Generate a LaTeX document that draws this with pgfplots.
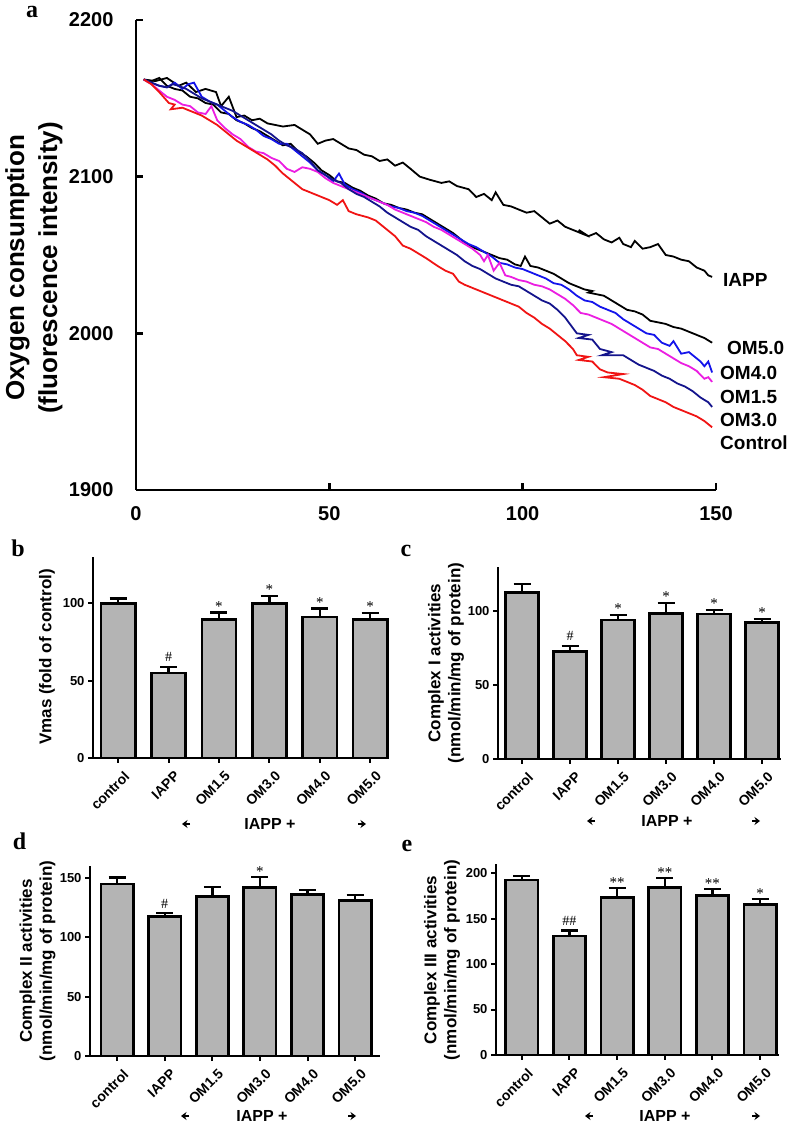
\documentclass[border=0pt]{standalone}
\usepackage{pgfplots}
\pgfplotsset{compat=1.18}
\usetikzlibrary{arrows.meta}
\usepackage{fontspec}
\setmainfont{Liberation Sans}
\newfontfamily\serifbf{Liberation Serif}
\definecolor{bargray}{RGB}{180,180,180}
\definecolor{cblue}{RGB}{20,20,235}
\definecolor{cnavy}{RGB}{20,20,140}
\definecolor{cmag}{RGB}{235,30,225}
\definecolor{cred}{RGB}{240,20,20}
\newcommand{\fs}[2]{\fontsize{#1pt}{#2pt}\selectfont}
\pgfplotsset{
 barpanel/.style={
   scale only axis, anchor=south west,
   ybar, bar width=0.68,
   axis x line*=bottom, axis y line*=left,
   axis line style={line width=2pt,-},
   tick align=outside, major tick length=5pt,
   tick style={line width=2pt, black},
   xtick={0,...,5}, xticklabels={control,IAPP,OM1.5,OM3.0,OM4.0,OM5.0},
   x tick label style={xshift=5pt, yshift=-7pt, rotate=45, anchor=north east, inner sep=0pt, font=\fs{14}{16}\bfseries},
   y tick label style={font=\fs{13}{15}\bfseries},
   /pgf/number format/assume math mode=true,
   ymin=0, clip=false,
 },
 barstyle/.style={fill=bargray, draw=black, line width=2.7pt,
   error bars/.cd, y dir=plus, y explicit,
   error bar style={line width=2.4pt, black},
   error mark=|,
   error mark options={mark size=8.5pt, line width=2.4pt, black}},
}
\tikzset{
 star/.style={font=\serifbf\fs{15}{15}, anchor=base, yshift=1pt},
 hash/.style={font=\serifbf\fs{14}{14}, anchor=base, yshift=5pt},
 arr/.style={line width=2pt, -{Stealth[length=5.5pt,width=8pt]}},
}
\begin{document}
\begin{tikzpicture}
\useasboundingbox (0,0) rectangle (788pt,1124pt);

% ---------------- panel a
\begin{axis}[scale only axis, anchor=south west, at={(136pt,634pt)},
  width=580pt, height=470pt, xmin=0, xmax=150, ymin=1900, ymax=2200,
  axis x line*=bottom, axis y line*=left,
  axis line style={line width=2.7pt,-},
  tick align=inside, major tick length=7pt,
  tick style={line width=2.7pt, black},
  xtick={0,50,100,150}, xticklabels={0,50,100,150},
  ytick={1900,2000,2100,2200}, yticklabels={1900,2000,2100,2200},
  tick label style={font=\fs{20}{22}\bfseries},
  xticklabel style={yshift=-13pt}, yticklabel style={xshift=-19pt},
  clip=false]
\addplot[black, line width=1.8pt] coordinates {(2,2162)(5,2161)(8,2163)(11,2158)(13,2160)(15.5,2154)(18,2156)(20.7,2154)(22,2145)(24,2151)(26,2138)(28,2139)(30,2136)(32,2137)(34,2134)(36,2133)(38,2132)(41,2133)(43,2130)(45,2127)(47,2121)(49,2123)(51,2124)(53,2121)(55,2118)(57,2117)(59,2114)(61,2113)(63,2110)(65,2111)(67,2107)(69,2109)(71,2105)(73.4,2100)(76,2098)(79,2096)(81,2097)(83,2094)(86,2092)(88,2087)(90,2089)(92,2085)(93,2090)(95,2082)(97,2081)(99,2079)(101,2077)(103,2078)(105,2074)(107,2070)(109,2072)(111,2068)(113,2066)(115,2064)(116,2063)(114.5,2066)(117,2062)(119,2064)(121,2060)(123,2058)(125,2061)(126,2057)(128,2055)(129,2059)(131,2054)(133,2055)(135,2057)(137,2050)(139,2049)(141,2047)(143,2046)(145,2042)(147,2040)(148,2037)(149,2036)};
\addplot[black, line width=1.8pt] coordinates {(2,2162)(4,2161)(6,2163)(8,2158)(10,2156)(12,2155)(14,2151)(16,2150)(18,2147)(20,2146)(22,2141)(24,2140)(26,2136)(28,2134)(30,2131)(32,2129)(34,2126)(36,2123)(38,2120)(40,2121)(42,2116)(44,2113)(46,2109)(48,2104)(50,2101)(52,2097)(54,2096)(56,2093)(58,2091)(60,2088)(62,2086)(64,2083)(66,2082)(68,2080)(70,2079)(72,2077)(74,2076)(76,2073)(78,2070)(80,2067)(82,2064)(84,2060)(86,2056)(88,2054)(90,2052)(92,2050)(94,2048)(96,2047)(98,2044)(99.5,2043)(100.6,2049)(102,2043)(104,2042)(106,2040)(108,2038)(110,2035)(112,2032)(114,2030)(116,2028)(118,2027)(117,2026)(119,2025)(121,2024)(123,2021)(125,2018)(127,2015)(129,2014)(131,2012)(133,2008)(135,2007)(137,2006)(139,2004)(141,2003)(143,2001)(145,1999)(147,1997)(149,1994)};
\addplot[cblue, line width=1.8pt] coordinates {(2,2162)(4,2160)(6,2158)(8,2157)(10,2160)(12,2156)(13.5,2159)(15,2160)(17,2151)(19,2148)(21,2146)(23,2142)(25,2138)(27,2135)(29,2133)(31,2130)(33,2126)(35,2124)(37,2121)(39,2121)(41,2117)(43,2113)(45,2109)(47,2104)(49,2101)(51,2097)(52.5,2102)(54,2095)(56,2092)(58,2090)(60,2087)(62,2085)(64,2083)(66,2081)(68,2080)(70,2078)(72,2077)(74,2075)(76,2072)(78,2069)(80,2066)(82,2063)(84,2060)(86,2057)(88,2055)(90,2052)(92,2049)(94,2045)(96,2044)(98,2042)(100,2041)(102,2039)(104,2037)(106,2035)(108,2032)(110,2031)(112,2028)(114,2024)(116,2021)(118,2020)(120,2017)(122,2015)(124,2013)(126,2009)(128,2006)(130,2003)(132,2000)(134,1999)(136,1994)(138,1992)(139,1995)(141,1987)(143,1988)(144,1986)(146,1982)(147,1979)(148,1982)(149,1975)};
\addplot[cmag, line width=1.8pt] coordinates {(2,2162)(4,2159)(6,2155)(8,2151)(10,2149)(12,2146)(14,2145)(16,2141)(18,2140)(19.5,2145)(21,2136)(23,2131)(25,2127)(27,2124)(29,2119)(31,2116)(33,2115)(35,2112)(37,2110)(39,2105)(41,2103)(43,2106)(45,2105)(47,2103)(49,2099)(51,2096)(53,2094)(55,2092)(57,2090)(59,2088)(61,2086)(63,2084)(65,2082)(67,2079)(69,2077)(71,2075)(73,2073)(75,2071)(77,2068)(79,2066)(81,2063)(83,2060)(85,2057)(87,2054)(89,2050)(90,2046)(91,2050)(92.5,2040)(94,2045)(95.5,2037)(97,2036)(99,2034)(101,2033)(103,2031)(105,2030)(107,2028)(109,2025)(111,2022)(113,2018)(115,2013)(117,2012)(119,2010)(121,2008)(123,2006)(125,2003)(127,2000)(129,1997)(131,1994)(133,1991)(135,1990)(137,1987)(139,1984)(141,1981)(143,1979)(145,1976)(147,1971)(148,1972)(149,1969)};
\addplot[cnavy, line width=1.8pt] coordinates {(2,2162)(4,2160)(6,2158)(8,2157)(9.5,2159)(11,2158)(13,2156)(15,2153)(17,2150)(19,2148)(21,2146)(23,2144)(25,2142)(27,2139)(29,2136)(31,2133)(33,2130)(35,2127)(37,2123)(39,2120)(41,2118)(43,2115)(45,2110)(47,2104)(49,2101)(51,2098)(53,2096)(55,2092)(57,2089)(59,2087)(61,2084)(63,2081)(65,2077)(67,2074)(69,2071)(71,2068)(73,2066)(75,2062)(77,2059)(79,2056)(81,2053)(83,2050)(85,2046)(87,2043)(89,2041)(91,2038)(93,2035)(95,2033)(97,2031)(99,2030)(101,2027)(103,2024)(105,2021)(107,2019)(109,2015)(111,2010)(112.5,2005)(114,2000)(117,1999)(114.5,1997)(118,1996)(120,1990)(123,1988)(120.5,1986)(126,1986)(128,1983)(130,1980)(132,1978)(134,1976)(136,1973)(138,1971)(140,1968)(142,1966)(144,1963)(146,1959)(148,1956)(149,1953)};
\addplot[cred, line width=1.8pt] coordinates {(2,2162)(4,2159)(6,2154)(8.5,2147)(10,2146)(9,2143)(12,2144)(14,2142)(17,2139)(19,2136)(21,2133)(23,2129)(26,2123)(28,2120)(30,2117)(32,2114)(34,2111)(36,2107)(38,2102)(40,2098)(43,2092)(45,2090)(48,2087)(50,2085)(52,2082)(53.5,2085)(55,2078)(57,2076)(60,2074)(62,2072)(65,2066)(67,2062)(69,2056)(71,2054)(73,2051)(75,2048)(78,2043)(80,2040)(82,2038)(83.5,2033)(85,2031)(87,2029)(90,2026)(93,2023)(95,2021)(97,2019)(99,2017)(101,2013)(103,2010)(105,2006)(107,2003)(109,1999)(111,1995)(113,1990)(114,1986)(117,1985)(114.5,1983)(118,1982)(120,1977)(122,1975)(126,1974)(121,1972)(125,1971)(127,1969)(129,1967)(131,1964)(133,1960)(135,1958)(137,1956)(139,1953)(141,1951)(143,1949)(145,1947)(147,1944)(149,1940)};
\end{axis}
\begin{scope}[every node/.style={font=\fs{19}{21}\bfseries, anchor=west, inner sep=0pt}]
\node at (723pt,844pt) {IAPP};
\node at (727pt,776pt) {OM5.0};
\node at (720pt,751pt) {OM4.0};
\node at (720pt,727pt) {OM1.5};
\node at (720pt,704pt) {OM3.0};
\node at (720pt,681pt) {Control};
\end{scope}
\node[rotate=90, align=center, font=\fs{26}{33}\bfseries] at (34pt,856pt) {Oxygen consumption\\(fluorescence intensity)};

% ---------------- panel b
\begin{axis}[barpanel, at={(93pt,366pt)}, width=294.8pt, height=201pt,
  xmin=-0.5, xmax=5.35, ymax=130, ytick={0,50,100}]
\addplot[barstyle] coordinates {(0,100)+-(0,3.2) (1,55)+-(0,4) (2,89.8)+-(0,4.2) (3,100)+-(0,4.8) (4,91.2)+-(0,5.6) (5,89.6)+-(0,4.2)};
\node[hash] at (axis cs:1,59) {\#};
\node[star] at (axis cs:2,94) {*};
\node[star] at (axis cs:3,104.8) {*};
\node[star] at (axis cs:4,96.8) {*};
\node[star] at (axis cs:5,93.8) {*};
\end{axis}

% ---------------- panel c
\begin{axis}[barpanel, at={(498pt,365pt)}, width=283.2pt, height=192.4pt,
  xmin=-0.5, xmax=5.4, ymax=130, ytick={0,50,100}]
\addplot[barstyle] coordinates {(0,112.6)+-(0,5.6) (1,72.5)+-(0,3.9) (2,93.9)+-(0,3.4) (3,98.4)+-(0,7.2) (4,98)+-(0,2.7) (5,92.1)+-(0,2.5)};
\node[hash] at (axis cs:1,76.4) {\#};
\node[star] at (axis cs:2,97.3) {*};
\node[star] at (axis cs:3,105.6) {*};
\node[star] at (axis cs:4,100.7) {*};
\node[star] at (axis cs:5,94.6) {*};
\end{axis}

% ---------------- panel d
\begin{axis}[barpanel, at={(90pt,68pt)}, width=289.9pt, height=190pt,
  xmin=-0.57, xmax=5.52, ymax=160, ytick={0,50,100,150}]
\addplot[barstyle] coordinates {(0,144.9)+-(0,5.3) (1,117.4)+-(0,2.8) (2,134.2)+-(0,7.9) (3,141.8)+-(0,8.7) (4,135.9)+-(0,3.9) (5,131.2)+-(0,4.2)};
\node[hash] at (axis cs:1,120.2) {\#};
\node[star] at (axis cs:3,150.5) {*};
\end{axis}

% ---------------- panel e
\begin{axis}[barpanel, at={(496pt,69pt)}, width=283.2pt, height=191pt,
  xmin=-0.54, xmax=5.4, ymax=210, ytick={0,50,100,150,200}]
\addplot[barstyle] coordinates {(0,192.4)+-(0,4.7) (1,131)+-(0,5.9) (2,173.3)+-(0,10.3) (3,184.3)+-(0,10.3) (4,175.2)+-(0,7.3) (5,165.7)+-(0,5.5)};
\node[hash] at (axis cs:1,136.9) {\#\#};
\node[star] at (axis cs:2,183.6) {**};
\node[star] at (axis cs:3,194.6) {**};
\node[star] at (axis cs:4,182.5) {**};
\node[star] at (axis cs:5,171.2) {*};
\end{axis}

% y labels of bar panels
\node[rotate=90, font=\fs{17}{20}\bfseries] at (47pt,467pt) {Vmas (fold of control)};
\node[rotate=90, align=center, font=\fs{17}{20}\bfseries] at (446pt,461pt) {Complex I activities\\(nmol/min/mg of protein)};
\node[rotate=90, align=center, font=\fs{17}{20}\bfseries] at (37.5pt,163pt) {Complex II activities\\(nmol/min/mg of protein)};
\node[rotate=90, align=center, font=\fs{17}{20}\bfseries] at (442pt,164pt) {Complex III activities\\(nmol/min/mg of protein)};

% IAPP + groups
\begin{scope}[every node/.style={font=\fs{16}{18}\bfseries, inner sep=0pt}]
\node at (270pt,300pt) {IAPP +};
\node at (667pt,303pt) {IAPP +};
\node at (262pt,8pt) {IAPP +};
\node at (665pt,8pt) {IAPP +};
\end{scope}
\draw[arr] (190pt,300pt) -- (182pt,300pt);
\draw[arr] (358pt,300pt) -- (366pt,300pt);
\draw[arr] (595pt,303pt) -- (587pt,303pt);
\draw[arr] (752pt,303pt) -- (760pt,303pt);
\draw[arr] (189pt,8pt) -- (181pt,8pt);
\draw[arr] (348pt,8pt) -- (356pt,8pt);
\draw[arr] (593pt,8pt) -- (585pt,8pt);
\draw[arr] (752pt,8pt) -- (760pt,8pt);

% panel letters
\begin{scope}[every node/.style={font=\serifbf\bfseries\fs{24}{24}, anchor=base, inner sep=0pt}]
\node at (32pt,1106pt) {a};
\node at (18pt,567pt) {b};
\node at (406pt,567pt) {c};
\node at (19.5pt,274pt) {d};
\node at (407pt,272pt) {e};
\end{scope}
\end{tikzpicture}
\end{document}
